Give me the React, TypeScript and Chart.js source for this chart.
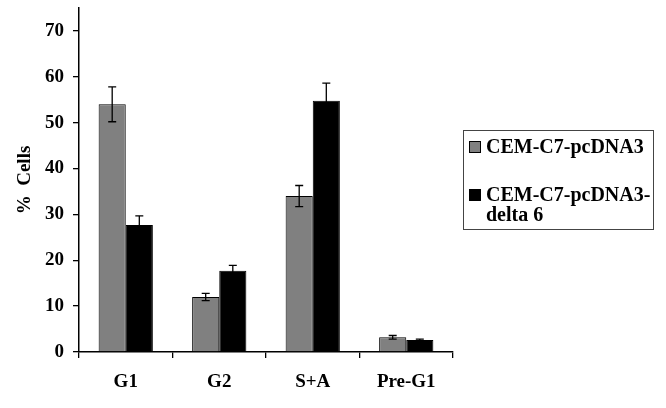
import React, { useEffect, useRef } from "react";
import { Chart, registerables } from "chart.js";

Chart.register(...registerables);

const categories = ["G1", "G2", "S+A", "Pre-G1"];
const seriesNames = ["CEM-C7-pcDNA3", "CEM-C7-pcDNA3-delta 6"];
const legendLines = [["CEM-C7-pcDNA3"], ["CEM-C7-pcDNA3-", "delta 6"]];
const controlValues = [54.0, 12.0, 34.0, 3.2];
const controlErrors = [3.8, 0.8, 2.3, 0.4];
const delta6Values = [27.7, 17.7, 54.8, 2.6];
const delta6Errors = [2.0, 1.2, 3.8, 0.2];
const yTicks = [0, 10, 20, 30, 40, 50, 60, 70];
const yMax = 75;

const FONT = "'Liberation Serif', 'Times New Roman', serif";
const FONT_SIZE = 19;
const LEGEND_FONT_SIZE = 20;

const errorBarPlugin = {
  id: "errorBars",
  afterDatasetsDraw(chart: any) {
    const ctx = chart.ctx;
    const yScale = chart.scales.y;
    chart.data.datasets.forEach((ds: any, di: number) => {
      const meta = chart.getDatasetMeta(di);
      const errs: number[] = ds.errors || [];
      meta.data.forEach((bar: any, i: number) => {
        const v = ds.data[i];
        const e = errs[i] || 0;
        const yTop = yScale.getPixelForValue(v + e);
        const yBot = yScale.getPixelForValue(v - e);
        const x = bar.x;
        ctx.save();
        ctx.strokeStyle = "#000";
        ctx.lineWidth = 1.3;
        ctx.beginPath();
        ctx.moveTo(x, yTop);
        ctx.lineTo(x, yBot);
        ctx.moveTo(x - 4, yTop);
        ctx.lineTo(x + 4, yTop);
        ctx.moveTo(x - 4, yBot);
        ctx.lineTo(x + 4, yBot);
        ctx.stroke();
        ctx.restore();
      });
    });
  },
};

const customLegendPlugin = {
  id: "customLegend",
  afterDraw(chart: any) {
    const ctx = chart.ctx;
    const area = chart.chartArea;
    const left = area.right + 10;
    const top = 130;
    const w = 190;
    const h = 99;
    ctx.save();
    ctx.strokeStyle = "#444";
    ctx.lineWidth = 1;
    ctx.strokeRect(left + 0.5, top + 0.5, w, h);
    ctx.font = `bold ${LEGEND_FONT_SIZE}px ${FONT}`;
    ctx.textBaseline = "alphabetic";
    const baselines = [[153], [201, 221]];
    chart.data.datasets.forEach((ds: any, di: number) => {
      const b = baselines[di];
      ctx.fillStyle = ds.backgroundColor;
      ctx.fillRect(left + 6, b[0] - 12, 12, 12);
      ctx.strokeStyle = "#000";
      ctx.strokeRect(left + 6.5, b[0] - 11.5, 11, 11);
      ctx.fillStyle = "#000";
      legendLines[di].forEach((line, li) => {
        ctx.fillText(line, left + 23, b[li]);
      });
    });
    ctx.restore();
  },
};

export default function App() {
  const ref = useRef<HTMLCanvasElement>(null);
  useEffect(() => {
    document.body.style.margin = "0";
    const chart = new Chart(ref.current!, {
      type: "bar",
      data: {
        labels: categories,
        datasets: [
          {
            label: seriesNames[0],
            data: controlValues,
            errors: controlErrors,
            backgroundColor: "#808080",
            borderColor: "#000",
            borderWidth: 1,
            categoryPercentage: 0.58,
            barPercentage: 1,
          } as any,
          {
            label: seriesNames[1],
            data: delta6Values,
            errors: delta6Errors,
            backgroundColor: "#000",
            borderColor: "#000",
            borderWidth: 1,
            categoryPercentage: 0.58,
            barPercentage: 1,
          } as any,
        ],
      },
      options: {
        animation: false,
        responsive: false,
        layout: { padding: { left: 0, right: 213, top: 8, bottom: 0 } },
        plugins: { legend: { display: false }, tooltip: { enabled: false } },
        scales: {
          x: {
            grid: {
              display: true,
              drawOnChartArea: false,
              drawTicks: true,
              tickLength: 6,
              color: "#000",
              lineWidth: 1.3,
              offset: true,
            },
            border: { color: "#000", width: 1.5 },
            ticks: {
              color: "#000",
              padding: 13,
              font: { family: FONT, size: FONT_SIZE, weight: "bold" },
            },
            afterFit(scale: any) {
              scale.height = 56;
              scale.paddingLeft = 0;
              scale.paddingRight = 0;
            },
          },
          y: {
            min: 0,
            max: yMax,
            grid: {
              display: true,
              drawOnChartArea: false,
              drawTicks: true,
              tickLength: 6,
              color: "#000",
              lineWidth: 1.3,
            },
            border: { color: "#000", width: 1.5 },
            afterBuildTicks(scale: any) {
              scale.ticks = yTicks.map((v) => ({ value: v }));
            },
            ticks: {
              color: "#000",
              padding: 9,
              font: { family: FONT, size: FONT_SIZE, weight: "bold" },
            },
            title: {
              display: true,
              text: "%  Cells",
              color: "#000",
              padding: { top: 14, bottom: 0 },
              font: { family: FONT, size: FONT_SIZE, weight: "bold" },
            },
            afterFit(scale: any) {
              scale.width = 79;
              scale.paddingTop = 0;
              scale.paddingBottom = 0;
            },
          },
        },
      },
      plugins: [errorBarPlugin, customLegendPlugin],
    });
    return () => chart.destroy();
  }, []);
  return (
    <div style={{ width: 666, height: 408 }}>
      <canvas ref={ref} width={666} height={408} style={{ display: "block" }} />
    </div>
  );
}
